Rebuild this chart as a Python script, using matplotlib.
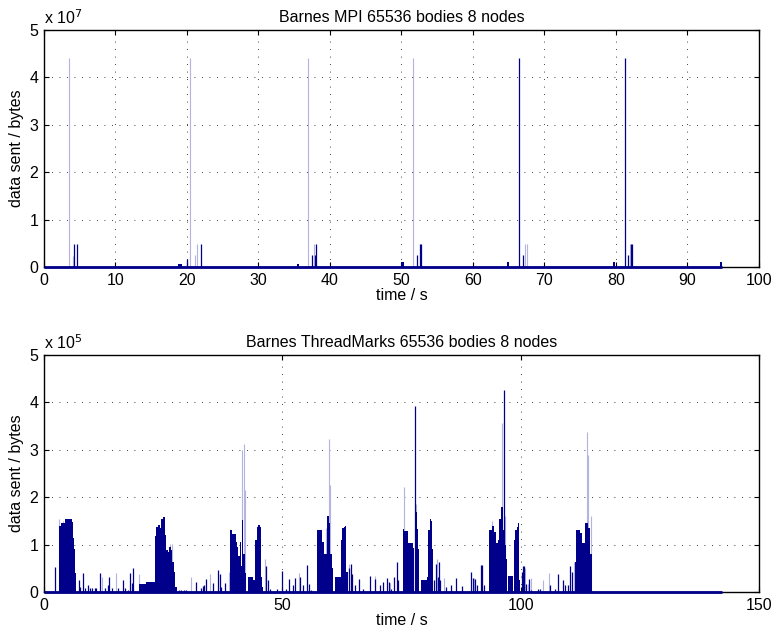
import matplotlib
matplotlib.use("Agg")
import matplotlib.pyplot as plt
from matplotlib.ticker import FuncFormatter

plt.rcParams["font.family"] = ["Liberation Sans", "DejaVu Sans"]
plt.rcParams["font.size"] = 11.5

NAVY = "#00008b"
FAINT = "#b4b4e2"

# ---- Barnes MPI (top) ----
mpi_end = 94.8
# (start, end, bytes)
mpi_blocks = [(18.8, 19.3, 7e5), (35.45, 35.65, 7e5), (50.0, 50.4, 1.0e6),
              (64.8, 65.1, 1.0e6), (79.6, 79.9, 1.0e6), (94.55, 94.8, 1.0e6)]
mpi_spike_t = [4.14, 4.6, 20.03, 22.03, 37.55, 37.97, 38.11, 52.23, 52.6, 52.75,
               66.49, 67.05, 81.22, 81.73, 82.15, 82.3]
mpi_spike_h = [4.8e6, 4.8e6, 1.8e6, 4.8e6, 2.5e6, 2.5e6, 4.8e6, 2.5e6, 4.8e6, 4.8e6,
               4.4e7, 2.5e6, 4.4e7, 2.5e6, 4.8e6, 4.8e6]
mpi_faint_t = [3.44, 4.0, 20.45, 21.06, 21.39, 36.99, 37.83, 51.67, 67.24, 67.57, 81.92]
mpi_faint_h = [4.4e7, 2.3e6, 4.4e7, 2.5e6, 4.8e6, 4.4e7, 4.8e6, 4.4e7, 4.8e6, 4.8e6, 4.8e6]

# ---- Barnes ThreadMarks (bottom) ----
tmk_end = 142.2
tmk_blocks = [
    (3.2, 3.5, 1.40e5), (3.5, 4.4, 1.45e5), (4.4, 5.8, 1.55e5), (5.8, 6.1, 1.47e5),
    (6.1, 6.35, 1.15e5), (6.35, 6.55, 0.9e5), (6.55, 6.8, 0.4e5),
    (20.0, 21.4, 0.18e5), (21.4, 23.3, 0.22e5),
    (23.3, 23.6, 1.19e5), (23.6, 23.95, 1.37e5), (23.95, 24.3, 1.42e5), (24.3, 24.6, 1.35e5),
    (24.6, 24.9, 1.54e5), (24.9, 25.3, 1.58e5), (25.3, 25.6, 1.2e5), (25.6, 25.95, 0.88e5),
    (25.95, 26.3, 0.85e5), (26.3, 26.6, 0.95e5), (26.6, 26.95, 0.88e5), (26.95, 27.25, 0.64e5),
    (27.25, 27.55, 0.42e5), (27.55, 27.9, 0.1e5),
    (39.07, 39.4, 1.3e5), (39.4, 40.25, 1.22e5), (40.25, 40.5, 1.06e5), (40.5, 40.8, 0.95e5),
    (40.8, 41.1, 0.77e5), (41.1, 41.35, 1.06e5), (41.35, 41.55, 0.55e5), (41.55, 41.8, 1.53e5),
    (41.8, 42.2, 0.8e5), (42.2, 42.4, 0.4e5),
    (42.9, 43.9, 0.32e5), (43.9, 44.3, 0.25e5),
    (44.3, 44.6, 1.1e5), (44.6, 44.95, 1.37e5), (44.95, 45.3, 1.42e5), (45.3, 45.5, 1.37e5),
    (45.5, 45.75, 0.32e5), (45.75, 46.0, 0.1e5),
    (57.2, 58.3, 1.3e5), (58.3, 58.85, 1.05e5), (58.85, 59.3, 0.8e5), (59.3, 59.8, 1.6e5),
    (59.8, 60.05, 1.45e5), (60.05, 60.35, 0.8e5), (60.35, 60.7, 0.5e5),
    (61.1, 62.3, 0.32e5),
    (62.3, 62.6, 1.1e5), (62.6, 62.9, 1.35e5), (62.9, 63.2, 1.38e5), (63.2, 63.4, 1.4e5),
    (63.4, 63.8, 0.42e5),
    (75.27, 75.55, 1.34e5), (75.55, 76.45, 1.28e5), (76.45, 77.37, 1.04e5), (77.37, 77.7, 0.94e5),
    (77.85, 78.2, 1.69e5), (78.2, 78.55, 1.34e5), (78.55, 78.77, 0.9e5),
    (79.0, 80.3, 0.25e5), (80.3, 80.6, 0.32e5),
    (80.6, 80.9, 1.3e5), (80.9, 81.2, 1.55e5), (81.2, 81.45, 1.5e5), (81.45, 81.65, 0.9e5),
    (93.45, 93.94, 1.3e5), (93.94, 94.5, 1.4e5), (94.5, 94.84, 1.27e5), (94.84, 95.2, 1.04e5),
    (95.2, 95.5, 1.1e5), (95.5, 95.9, 1.55e5), (95.9, 96.24, 1.8e5), (96.24, 96.55, 1.3e5),
    (96.65, 96.9, 1.0e5), (96.9, 97.1, 0.7e5),
    (97.4, 98.4, 0.33e5),
    (98.6, 98.9, 1.1e5), (98.9, 99.25, 1.3e5), (99.25, 99.5, 1.38e5), (99.5, 99.7, 1.45e5),
    (99.7, 99.9, 0.25e5),
    (111.4, 111.6, 0.64e5), (111.6, 112.45, 1.3e5), (112.45, 112.9, 1.25e5), (112.9, 113.45, 1.04e5),
    (113.45, 113.6, 1.78e5), (113.6, 114.1, 1.45e5), (114.1, 114.5, 1.35e5), (114.5, 114.9, 0.8e5),
]
tmk_spike_t = [2.23, 7.26, 7.6, 8.1, 8.6, 9.15, 9.6, 10.1, 10.6, 11.0, 11.7, 12.7, 13.4, 13.7,
               14.3, 15.5, 16.6, 17.0, 17.6, 18.1, 18.4, 18.6,
               28.3, 28.8, 29.3, 29.8, 31.9, 33.0, 33.3, 33.6, 34.0, 35.4, 36.6, 36.85, 37.1, 38.0,
               46.6, 46.9, 47.4, 48.9, 49.9, 50.8, 51.5, 52.3, 52.7, 53.75, 54.4, 55.1, 55.5, 56.0,
               64.1, 64.4, 64.7, 65.2, 66.0, 67.0, 68.3, 69.5, 70.6, 71.2, 72.0, 72.3, 72.9,
               73.5, 74.0, 74.3, 77.8,
               81.9, 82.3, 82.6, 82.8, 83.1, 84.3, 85.5, 86.5, 87.8, 89.6, 90.0, 90.4, 90.9,
               91.6, 91.8, 92.3, 96.6,
               100.2, 100.5, 100.8, 101.1, 101.8, 102.1, 103.6, 104.1, 106.2, 107.2, 107.8,
               108.9, 109.4, 109.9, 110.4, 110.7]
tmk_spike_h = [0.52e5, 0.25e5, 0.1e5, 0.41e5, 0.08e5, 0.16e5, 0.08e5, 0.08e5, 0.08e5, 0.08e5,
               0.41e5, 0.08e5, 0.15e5, 0.32e5, 0.08e5, 0.08e5, 0.25e5, 0.08e5, 0.05e5, 0.41e5,
               0.2e5, 0.5e5,
               0.05e5, 0.04e5, 0.05e5, 0.04e5, 0.21e5, 0.08e5, 0.12e5, 0.15e5, 0.28e5, 0.19e5,
               0.46e5, 0.39e5, 0.1e5, 0.19e5,
               0.56e5, 0.25e5, 0.07e5, 0.07e5, 0.44e5, 0.07e5, 0.28e5, 0.14e5, 0.3e5, 0.32e5,
               0.14e5, 0.58e5, 0.18e5, 0.05e5,
               0.5e5, 0.6e5, 0.39e5, 0.16e5, 0.28e5, 0.07e5, 0.33e5, 0.28e5, 0.16e5, 0.21e5,
               0.3e5, 0.21e5, 0.07e5, 0.32e5, 0.64e5, 0.25e5, 3.92e5,
               0.25e5, 0.6e5, 0.32e5, 0.64e5, 0.25e5, 0.1e5, 0.14e5, 0.3e5, 0.12e5, 0.43e5,
               0.3e5, 0.28e5, 0.14e5, 0.58e5, 0.58e5, 0.16e5, 4.26e5,
               0.42e5, 0.55e5, 0.55e5, 0.18e5, 0.28e5, 0.05e5, 0.07e5, 0.07e5, 0.14e5, 0.07e5,
               0.39e5, 0.25e5, 0.16e5, 0.16e5, 0.55e5, 0.42e5]
tmk_faint_t = [3.25, 3.9, 12.2, 15.1, 20.0, 26.4, 26.8, 30.9, 34.9, 38.9,
               41.45, 42.0, 42.2, 46.4, 53.6, 59.1, 59.7, 60.1, 64.0, 69.4, 72.6,
               75.5, 75.6, 78.0, 82.5, 84.0, 90.2, 93.9, 96.03, 96.8,
               100.9, 101.5, 102.1, 104.6, 106.0, 111.3, 114.0, 114.25, 114.7]
tmk_faint_h = [1.55e5, 1.5e5, 0.32e5, 0.41e5, 0.39e5, 1.02e5, 1.02e5, 0.32e5, 0.39e5, 0.42e5,
               3.0e5, 3.13e5, 2.15e5, 0.7e5, 0.41e5, 1.35e5, 3.23e5, 2.25e5, 0.6e5, 0.35e5, 0.2e5,
               2.22e5, 1.4e5, 1.85e5, 0.7e5, 0.3e5, 0.3e5, 1.5e5, 3.57e5, 1.6e5,
               0.5e5, 0.18e5, 0.3e5, 0.25e5, 0.41e5, 0.64e5, 3.37e5, 2.9e5, 1.6e5]


def draw_panel(ax, end, blocks, spike_t, spike_h, faint_t, faint_h, xmax, xstep, ymax, exp, title):
	ax.vlines(faint_t, 0, faint_h, colors=FAINT, linewidth=0.8, zorder=2)
	starts = [b[0] for b in blocks]
	widths = [b[1] - b[0] for b in blocks]
	heights = [b[2] for b in blocks]
	ax.bar(starts, heights, width=widths, align="edge", color=NAVY, linewidth=0, zorder=2)
	ax.vlines(spike_t, 0, spike_h, colors=NAVY, linewidth=0.9, zorder=2)
	# bar baseline drawn over the axis
	ax.hlines(0, 0, end, colors=NAVY, linewidth=2, zorder=3, clip_on=False)

	ax.set_xlim(0, xmax)
	ax.set_ylim(0, ymax)
	ax.set_xticks(range(0, xmax + 1, xstep))
	ax.set_yticks([ymax / 5 * i for i in range(6)])
	scale = 10 ** exp
	ax.yaxis.set_major_formatter(FuncFormatter(lambda v, p: "%g" % (v / scale)))
	ax.text(0, 1.012, r"x 10$^{%d}$" % exp, transform=ax.transAxes, ha="left", va="bottom")
	ax.grid(True, color="black", linestyle=(0, (1, 8)), linewidth=0.6)
	ax.set_axisbelow(True)
	ax.tick_params(direction="in", length=3.5, width=0.8, top=True, right=True, pad=4)
	for s in ax.spines.values():
		s.set_linewidth(1.0)
	ax.set_xlabel("time / s", labelpad=0)
	ax.set_ylabel("data sent / bytes", labelpad=4)
	ax.set_title(title, fontsize=11.5, pad=6)


fig = plt.figure(figsize=(7.72, 6.36), dpi=100)
ax1 = fig.add_axes([0.057, 0.580, 0.926, 0.373])
ax2 = fig.add_axes([0.057, 0.069, 0.926, 0.373])

draw_panel(ax1, mpi_end, mpi_blocks, mpi_spike_t, mpi_spike_h, mpi_faint_t, mpi_faint_h,
           100, 10, 5e7, 7, "Barnes MPI 65536 bodies 8 nodes")
draw_panel(ax2, tmk_end, tmk_blocks, tmk_spike_t, tmk_spike_h, tmk_faint_t, tmk_faint_h,
           150, 50, 5e5, 5, "Barnes ThreadMarks 65536 bodies 8 nodes")

fig.savefig("out.png", dpi=100)
